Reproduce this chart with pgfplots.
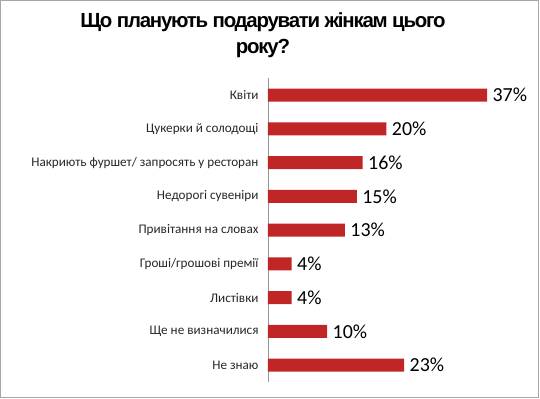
\documentclass[border=0pt]{standalone}
\usepackage{pgfplots}
\pgfplotsset{compat=1.18}
\usepackage{fontspec}
\setmainfont{Carlito}
\newfontfamily\titlefont[LetterSpace=-6]{Liberation Sans}
\definecolor{barred}{RGB}{192,38,38}
\definecolor{axisgray}{RGB}{150,150,150}
\pgfkeys{/pgf/number format/assume math mode=true}
\begin{document}
\begin{tikzpicture}
\begin{axis}[
  x=5.92bp, y=-33.75bp,
  xmin=0, xmax=40,
  ymin=-0.5, ymax=8.5,
  axis x line=none,
  axis y line*=left,
  y axis line style={axisgray, line width=0.8pt, -},
  ytick={0,...,8},
  yticklabels={Квіти,Цукерки й солодощі,Накриють фуршет/ запросять у ресторан,Недорогі сувеніри,Привітання на словах,Гроші/грошові премії,Листівки,Ще не визначилися,Не знаю},
  major tick length=0pt,
  yticklabel style={font=\fontsize{13.2}{15}\selectfont, text=black!85, xshift=-6bp},
  xbar, bar width=13bp,
  nodes near coords={\pgfmathprintnumber[assume math mode=true]{\pgfplotspointmeta}\%},
  nodes near coords style={font=\fontsize{20}{22}\selectfont, black, xshift=2bp},
  clip=false,
]
\addplot[draw=none, fill=barred] coordinates {
(37,0) (20,1) (16,2) (15,3) (13,4) (4,5) (4,6) (10,7) (23,8)};
\end{axis}
\useasboundingbox ([xshift=-268bp,yshift=-17bp]current axis.south west) rectangle ([xshift=272bp,yshift=382bp]current axis.south west);
\draw[gray!70, line width=1pt] ([xshift=-267bp,yshift=-15bp]current axis.south west) rectangle ([xshift=270bp,yshift=381bp]current axis.south west);
\node[align=center, font=\titlefont\bfseries\fontsize{20.5}{26}\selectfont] at ([xshift=-5bp,yshift=347bp]current axis.south west) {Що планують подарувати жінкам цього\\року?};
\end{tikzpicture}
\end{document}
